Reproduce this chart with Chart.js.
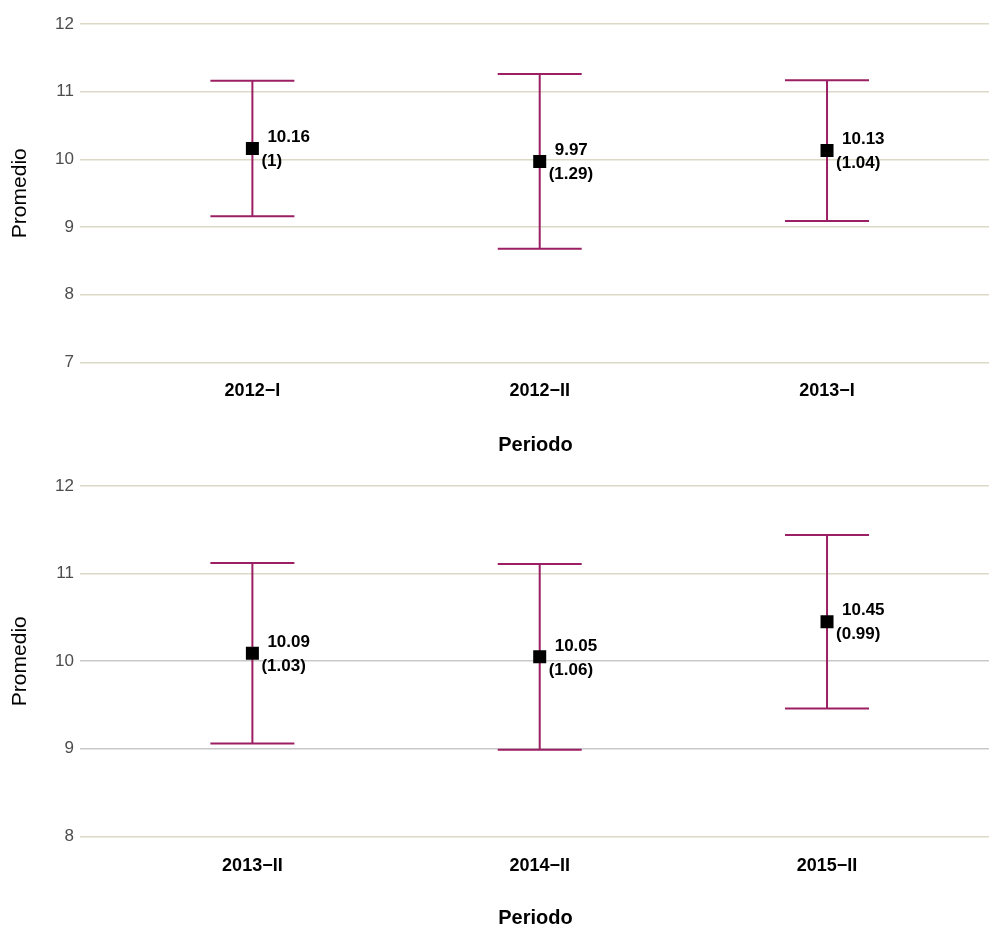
<!DOCTYPE html>
<html>
<head>
<meta charset="utf-8">
<script src="https://cdn.jsdelivr.net/npm/chart.js@4"></script>
<style>
  html, body { margin: 0; padding: 0; background: #fff; overflow: hidden; }
  .wrap { position: relative; width: 1000px; }
  #w1 { height: 463px; }
  #w2 { height: 467px; }
</style>
</head>
<body>
<div class="wrap" id="w1"><canvas id="chartTop"></canvas></div>
<div class="wrap" id="w2"><canvas id="chartBottom"></canvas></div>
<script>
// data
const topPeriods = ['2012−I', '2012−II', '2013−I'];
const topMeans = [10.16, 9.97, 10.13];
const topSD = [1, 1.29, 1.04];
const topTicks = [7, 8, 9, 10, 11, 12];

const bottomPeriods = ['2013−II', '2014−II', '2015−II'];
const bottomMeans = [10.09, 10.05, 10.45];
const bottomSD = [1.03, 1.06, 0.99];
const bottomTicks = [8, 9, 10, 11, 12];

const FONT = "'Liberation Sans', Arial, sans-serif";
const barColor = '#9b1f62';

// error bars drawn under the points, labels on top
const errorBars = {
    id: 'errorBars',
    beforeDatasetsDraw(chart) {
        const ds = chart.data.datasets[0];
        const x = chart.scales.x, y = chart.scales.y;
        const c = chart.ctx;
        c.save();
        c.strokeStyle = barColor;
        c.lineWidth = 2;
        ds.data.forEach((p, i) => {
            const px = x.getPixelForValue(p.x);
            const top = y.getPixelForValue(p.y + ds.sd[i]);
            const bot = y.getPixelForValue(p.y - ds.sd[i]);
            c.beginPath();
            c.moveTo(px, top); c.lineTo(px, bot);
            c.moveTo(px - 42, top); c.lineTo(px + 42, top);
            c.moveTo(px - 42, bot); c.lineTo(px + 42, bot);
            c.stroke();
        });
        c.restore();
    },
    afterDatasetsDraw(chart) {
        const ds = chart.data.datasets[0];
        const x = chart.scales.x, y = chart.scales.y;
        const c = chart.ctx;
        c.save();
        c.fillStyle = '#000';
        c.font = 'bold 17px ' + FONT;
        c.textAlign = 'left';
        c.textBaseline = 'middle';
        ds.data.forEach((p, i) => {
            const px = x.getPixelForValue(p.x);
            const py = y.getPixelForValue(p.y);
            c.fillText(String(p.y), px + 15, py - 11);
            c.fillText('(' + ds.sd[i] + ')', px + 9, py + 13);
        });
        c.restore();
    }
};

function makeChart(id, periods, means, sds, ticks, grayLines, pad) {
    const ctx = document.getElementById(id).getContext('2d');
    return new Chart(ctx, {
        type: 'scatter',
        data: {
            datasets: [{
                data: means.map((m, i) => ({ x: i + 1, y: m })),
                sd: sds,
                pointStyle: 'rect',
                pointRadius: 9.2,
                pointHoverRadius: 9.2,
                backgroundColor: '#000',
                borderColor: '#000',
                borderWidth: 0
            }]
        },
        options: {
            responsive: true,
            maintainAspectRatio: false,
            animation: false,
            layout: { padding: { top: pad.top, right: 0, left: 0, bottom: pad.bottom } },
            plugins: { legend: { display: false }, tooltip: { enabled: false } },
            scales: {
                x: {
                    type: 'linear',
                    min: 0.4,
                    max: 3.57,
                    afterBuildTicks: s => { s.ticks = periods.map((_, i) => ({ value: i + 1 })); },
                    grid: { display: false, drawTicks: false },
                    border: { display: false },
                    ticks: {
                        padding: pad.ticks,
                        color: '#000',
                        font: { family: FONT, size: 18, weight: 'bold' },
                        callback: v => periods[v - 1]
                    },
                    title: {
                        display: true,
                        text: 'Periodo',
                        color: '#000',
                        font: { family: FONT, size: 20, weight: 'bold' },
                        padding: { top: pad.title, bottom: 0 }
                    }
                },
                y: {
                    min: ticks[0],
                    max: ticks[ticks.length - 1],
                    afterBuildTicks: s => { s.ticks = ticks.map(v => ({ value: v })); },
                    afterFit: s => { s.width = 80; },
                    grid: {
                        drawTicks: false,
                        lineWidth: 1.5,
                        color: c => grayLines.includes(c.tick && c.tick.value) ? '#c9c9c9' : '#dcd9c6'
                    },
                    border: { display: false },
                    ticks: {
                        padding: 6,
                        color: '#4d4d4d',
                        font: { family: FONT, size: 17 }
                    },
                    title: {
                        display: true,
                        text: 'Promedio',
                        color: '#000',
                        font: { family: FONT, size: 21 },
                        padding: { top: 8, bottom: 0 }
                    }
                }
            }
        },
        plugins: [errorBars]
    });
}

makeChart('chartTop', topPeriods, topMeans, topSD, topTicks, [], { top: 24, bottom: 6, ticks: 18, title: 13 });
makeChart('chartBottom', bottomPeriods, bottomMeans, bottomSD, bottomTicks, [9, 10], { top: 23, bottom: 0, ticks: 19, title: 10 });
</script>
</body>
</html>
